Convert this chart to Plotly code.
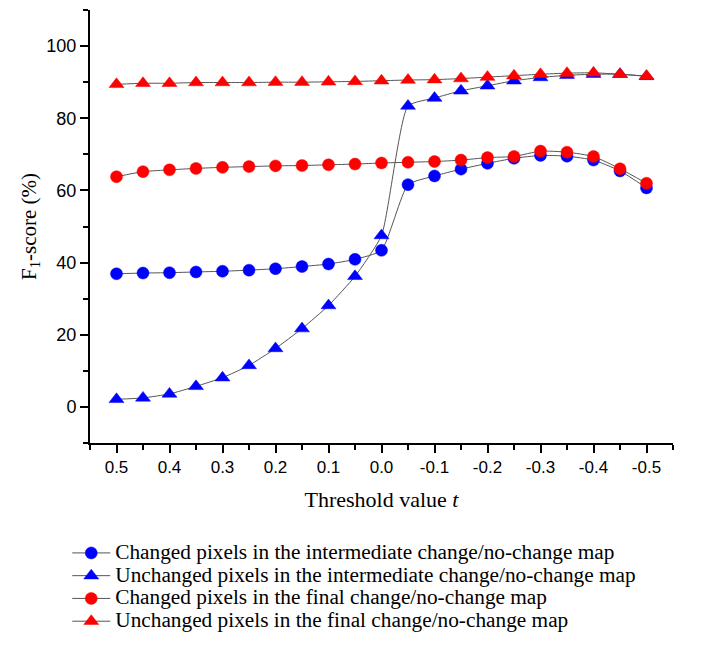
import plotly.graph_objects as go

thresholds = [0.5, 0.45, 0.4, 0.35, 0.3, 0.25, 0.2, 0.15, 0.1, 0.05, 0.0,
              -0.05, -0.1, -0.15, -0.2, -0.25, -0.3, -0.35, -0.4, -0.45, -0.5]

changed_intermediate = [36.9, 37.1, 37.2, 37.4, 37.6, 37.9, 38.3, 38.9, 39.6, 40.9, 43.4,
                        61.6, 64.0, 65.9, 67.5, 68.9, 69.7, 69.5, 68.4, 65.4, 60.7]
unchanged_intermediate = [2.1, 2.5, 3.6, 5.7, 8.1, 11.5, 16.2, 21.7, 28.1, 36.2, 47.5,
                          83.4, 85.6, 87.6, 89.0, 90.4, 91.3, 91.9, 92.2, 92.2, 91.6]
changed_final = [63.8, 65.2, 65.7, 66.1, 66.4, 66.6, 66.8, 66.9, 67.1, 67.3, 67.6,
                 67.8, 68.0, 68.4, 69.1, 69.4, 70.9, 70.6, 69.4, 66.0, 62.0]
unchanged_final = [89.4, 89.7, 89.7, 89.9, 89.9, 89.9, 90.0, 90.0, 90.1, 90.2, 90.4,
                   90.6, 90.7, 91.0, 91.4, 91.8, 92.2, 92.5, 92.6, 92.2, 91.7]

x_tick_vals = [0.5, 0.4, 0.3, 0.2, 0.1, 0.0, -0.1, -0.2, -0.3, -0.4, -0.5]
x_tick_text = ["0.5", "0.4", "0.3", "0.2", "0.1", "0.0", "-0.1", "-0.2", "-0.3", "-0.4", "-0.5"]
y_tick_vals = [0, 20, 40, 60, 80, 100]

series_names = [
    "Changed pixels in the intermediate change/no-change map",
    "Unchanged pixels in the intermediate change/no-change map",
    "Changed pixels in the final change/no-change map",
    "Unchanged pixels in the final change/no-change map",
]
series_values = [changed_intermediate, unchanged_intermediate, changed_final, unchanged_final]
series_colors = ["#0000ff", "#0000ff", "#ff0000", "#ff0000"]
series_symbols = ["circle", "triangle-up", "circle", "triangle-up"]

fig = go.Figure()
for name, vals, color, sym in zip(series_names, series_values, series_colors, series_symbols):
    fig.add_trace(go.Scatter(
        x=thresholds, y=vals,
        name='<span style="font-size:21.3px">' + name + '</span>',
        mode="lines+markers",
        line=dict(color="#555555", width=1, shape="spline", smoothing=0.5),
        marker=dict(color=color, symbol=sym, size=12 if sym == "circle" else 13,
                    line=dict(color=color, width=0.5)),
    ))

serif = "Liberation Serif, Times New Roman, serif"
sans = "Liberation Sans, Arial, sans-serif"

fig.update_layout(
    width=704, height=648,
    margin=dict(l=82, r=39, t=2, b=213),
    paper_bgcolor="white", plot_bgcolor="white",
    showlegend=True,
    legend=dict(x=-0.039, y=-0.216, xanchor="left", yanchor="top",
                font=dict(family=serif, size=15.2, color="black"),
                tracegroupgap=0, itemwidth=38, bgcolor="rgba(0,0,0,0)"),
    xaxis=dict(
        range=[0.55, -0.55], tickvals=x_tick_vals, ticktext=x_tick_text,
        showgrid=False, zeroline=False, showline=True, linecolor="black", linewidth=2,
        ticks="outside", ticklen=8, tickwidth=2, tickcolor="black",
        minor=dict(dtick=0.1, tick0=0.05, ticks="outside", ticklen=5, tickwidth=2, tickcolor="black"),
        tickfont=dict(family=sans, size=17, color="black"),
        title=dict(text="Threshold value <i>t</i>", font=dict(family=serif, size=22, color="black"),
                   standoff=15),
    ),
    yaxis=dict(
        range=[-10, 110], tickvals=y_tick_vals,
        showgrid=False, zeroline=False, showline=True, linecolor="black", linewidth=2,
        ticks="outside", ticklen=8, tickwidth=2, tickcolor="black",
        minor=dict(dtick=20, tick0=10, ticks="outside", ticklen=5, tickwidth=2, tickcolor="black"),
        tickfont=dict(family=sans, size=18, color="black"),
        title=dict(text="F<sub>1</sub>-score (%)", font=dict(family=serif, size=21, color="black"),
                   standoff=4),
    ),
)

fig.write_html("out.html")
